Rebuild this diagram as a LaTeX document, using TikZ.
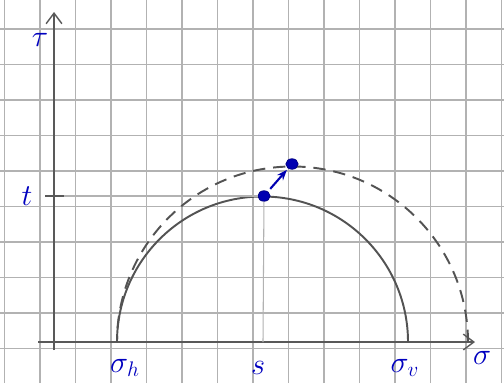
\documentclass[tikz,border=0pt]{standalone}
\usepackage{amsmath, amssymb}
\usetikzlibrary{positioning,arrows.meta,shapes.geometric}

\begin{document}
\begin{tikzpicture}[x=0.02cm, y=0.02cm,
        gridline/.style={draw=gray!60, line width=0.7pt},
        axis/.style={draw=gray!70!black, line width=0.8pt, -{Straight Barb[length=6pt, width=9pt]}},
        mohr/.style={draw=gray!65!black, line width=1.1pt},
        helper/.style={draw=gray!60, line width=0.6pt},
        dot/.style={ellipse, fill=blue!70!black, draw=blue!50!black, inner sep=0pt, minimum width=7pt, minimum height=6pt},
        lbl/.style={text=blue!75!black, font=\LARGE}
    ]
        \useasboundingbox (0,0) rectangle (504,383);
        \fill[white] (0,0) rectangle (504,383);

        % Graph paper
        \foreach \gx in {4.5,40,...,504} \draw[gridline] (\gx,0) -- (\gx,383);
        \foreach \gy in {34.5,70,...,383} \draw[gridline] (0,\gy) -- (504,\gy);

        % Axes
        \coordinate (orig) at (54,41);
        \coordinate (sigend) at (475,41);
        \coordinate (tauend) at (54,371);
        \draw[axis] (38,41) -- (sigend);
        \draw[axis] (54,33) -- (tauend);

        % Circle points on the sigma axis
        \coordinate (sh) at (117,41);
        \coordinate (sv) at (408,41);
        \coordinate (sc) at (262.5,41);
        \coordinate (svnew) at (468,41);

        % Mohr circles
        \draw[mohr] (sv) arc[start angle=0, end angle=180, radius=145.5];
        \draw[mohr, dash pattern=on 7pt off 4.5pt] (svnew) arc[start angle=0, end angle=180, radius=175.5];

        % Stress points
        \node[dot] (ptop) at (264,187) {};
        \node[dot] (pnew) at (292,219) {};
        \coordinate (tlev) at (45,187);
        \coordinate (sfoot) at (263,41);
        \draw[helper] (tlev) -- (ptop);
        \draw[gray!70!black, line width=1.2pt] (45,187) -- (64,187);
        \draw[helper] (ptop) -- (sfoot);
        \draw[blue!70!black, line width=1.2pt, shorten <=2pt, shorten >=1pt, -{Stealth[length=6pt]}] (ptop) -- (pnew);

        % Labels
        \node[lbl] (tau) at (40,343) {$\tau$};
        \node[lbl] (tval) at (27,187) {$t$};
        \node[lbl] (shl) at (125,15) {$\sigma_h$};
        \node[lbl] (sl) at (258,15) {$s$};
        \node[lbl] (svl) at (405,15) {$\sigma_v$};
        \node[lbl] (sig) at (482,25) {$\sigma$};
    \end{tikzpicture}
\end{document}
